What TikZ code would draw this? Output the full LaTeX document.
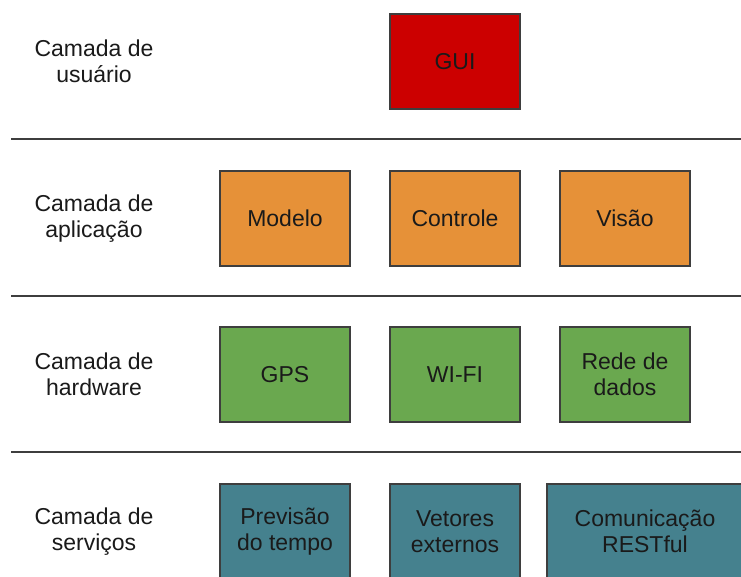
\documentclass[tikz,border=0pt]{standalone}
\usepackage{fontspec}
\setmainfont{Liberation Sans}
\definecolor{guired}{HTML}{CC0000}
\definecolor{apporange}{HTML}{E69138}
\definecolor{hwgreen}{HTML}{6AA84F}
\definecolor{svcteal}{HTML}{45818E}
\definecolor{edge}{HTML}{3E3E3E}
\definecolor{ink}{HTML}{1A1A1A}
\tikzset{
  layerbox/.style={draw=edge, line width=2pt, rectangle,
    minimum width=130pt, minimum height=95pt, inner sep=0pt,
    align=center, text=ink, font=\fontsize{23}{26}\selectfont},
  layerlabel/.style={align=center, text=ink, inner sep=0pt,
    font=\fontsize{23}{26}\selectfont},
  separator/.style={draw=edge, line width=2.6pt}
}
\begin{document}
\begin{tikzpicture}[x=1pt, y=-1pt]
  \useasboundingbox (0,0) rectangle (741,576);
  \clip (0,0) rectangle (741,576);
  \fill[white] (0,0) rectangle (741,576);

  % layer separators
  \coordinate (s1a) at (11,139);  \coordinate (s1b) at (745,139);
  \coordinate (s2a) at (11,296);  \coordinate (s2b) at (745,296);
  \coordinate (s3a) at (11,452);  \coordinate (s3b) at (745,452);
  \draw[separator] (s1a) -- (s1b);
  \draw[separator] (s2a) -- (s2b);
  \draw[separator] (s3a) -- (s3b);

  % layer names
  \node[layerlabel] (l1) at (94,61.5)  {Camada de\\usuário};
  \node[layerlabel] (l2) at (94,218.5) {Camada de\\aplicação};
  \node[layerlabel] (l3) at (94,374.5) {Camada de\\hardware};
  \node[layerlabel] (l4) at (94,531.5) {Camada de\\serviços};

  % user layer
  \node[layerbox, fill=guired] (gui) at (455,61.5) {GUI};

  % application layer
  \node[layerbox, fill=apporange] (modelo)   at (285,218.5) {Modelo};
  \node[layerbox, fill=apporange] (controle) at (455,218.5) {Controle};
  \node[layerbox, fill=apporange] (visao)    at (625,218.5) {Visão};

  % hardware layer
  \node[layerbox, fill=hwgreen] (gps)  at (285,374.5) {GPS};
  \node[layerbox, fill=hwgreen] (wifi) at (455,374.5) {WI-FI};
  \node[layerbox, fill=hwgreen] (rede) at (625,374.5) {Rede de\\dados};

  % services layer
  \node[layerbox, fill=svcteal] (previsao) at (285,531.5) {Previsão\\do tempo};
  \node[layerbox, fill=svcteal] (vetores)  at (455,531.5) {Vetores\\externos};
  \node[layerbox, fill=svcteal, minimum width=196pt] (rest) at (645,531.5) {Comunicação\\RESTful};
\end{tikzpicture}
\end{document}
